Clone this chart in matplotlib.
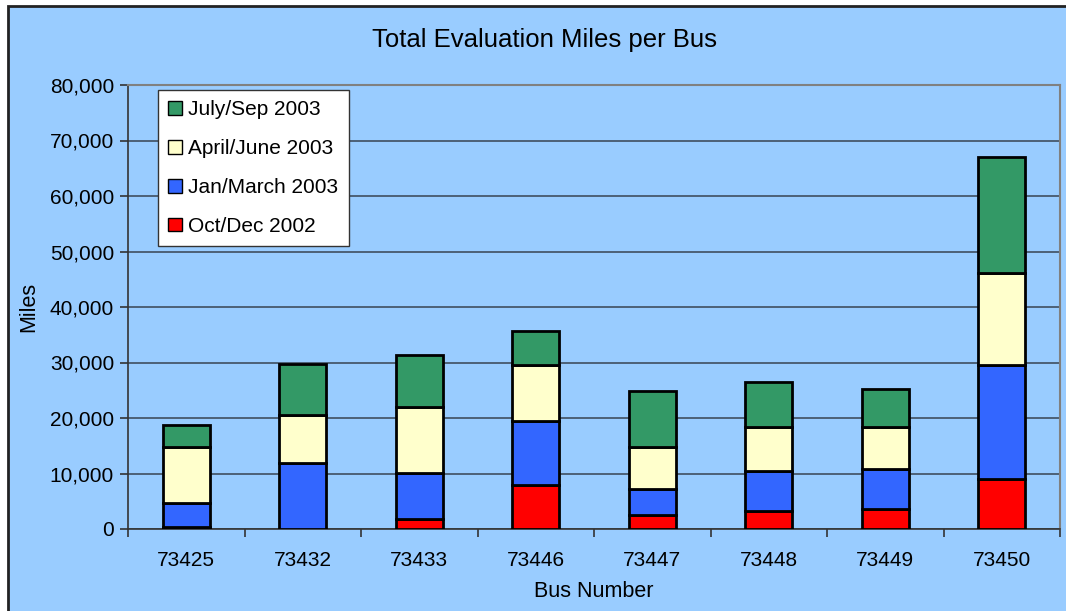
import numpy as np
import matplotlib.pyplot as plt
from matplotlib.patches import Rectangle
from matplotlib.ticker import FuncFormatter, FixedLocator

# Data (miles per quarter)
buses = ["73425", "73432", "73433", "73446", "73447", "73448", "73449", "73450"]
oct_dec_2002 = [400, 0, 1800, 7900, 2500, 3200, 3600, 9000]
jan_mar_2003 = [4300, 11900, 8300, 11600, 4700, 7200, 7200, 20600]
apr_jun_2003 = [10000, 8600, 11900, 10000, 7600, 8000, 7600, 16600]
jul_sep_2003 = [4100, 9200, 9400, 6200, 10100, 8000, 6800, 20900]

series = [
    ("Oct/Dec 2002", oct_dec_2002, "#FF0000"),
    ("Jan/March 2003", jan_mar_2003, "#3366FF"),
    ("April/June 2003", apr_jun_2003, "#FFFFCC"),
    ("July/Sep 2003", jul_sep_2003, "#339966"),
]

bg = "#99CCFF"
plt.rcParams["font.family"] = ["Liberation Sans", "DejaVu Sans"]

fig = plt.figure(figsize=(10.66, 6.11), dpi=100, facecolor="white")
# chart area (cropped at right and bottom in the original)
fig.patches.append(Rectangle((8 / 1066, -0.05), 1.1, 1.05 - 6 / 611,
                             transform=fig.transFigure, facecolor=bg,
                             edgecolor="#222222", linewidth=2, zorder=-1))
ax = fig.add_axes([128 / 1066, 1 - 529 / 611, 932 / 1066, 444 / 611])
ax.set_facecolor(bg)

x = np.arange(len(buses))
bottom = np.zeros(len(buses))
handles = []
for label, vals, color in series:
    b = ax.bar(x, vals, 0.4, bottom=bottom, color=color, edgecolor="black",
               linewidth=2, label=label, zorder=3)
    handles.append(b)
    bottom += np.array(vals)

ax.set_xlim(-0.5, len(buses) - 0.5)
ax.set_ylim(0, 80000)
ax.set_yticks(np.arange(0, 80001, 10000))
ax.yaxis.set_major_formatter(FuncFormatter(lambda v, p: f"{int(v):,}"))
ax.grid(axis="y", color="#3F4F60", linewidth=1.2, zorder=1)

ax.set_xticks(x)
ax.set_xticklabels(buses)
ax.xaxis.set_minor_locator(FixedLocator(np.arange(-0.5, len(buses), 1.0)))
ax.tick_params(axis="x", which="major", length=0, pad=16, labelsize=15)
ax.tick_params(axis="x", which="minor", length=6, width=1.2, color="#333333")
ax.tick_params(axis="y", length=6, width=1.2, color="#333333", labelsize=15, pad=4)

for s in ["left", "bottom"]:
    ax.spines[s].set_color("#333333")
    ax.spines[s].set_linewidth(1.2)
for s in ["top", "right"]:
    ax.spines[s].set_color("#808080")
    ax.spines[s].set_linewidth(1.5)

ax.set_xlabel("Bus Number", fontsize=15.5, labelpad=8)
ax.set_ylabel("Miles", fontsize=15.5, labelpad=8)
fig.text(545 / 1066, 1 - 40 / 611, "Total Evaluation Miles per Bus",
         ha="center", va="center", fontsize=18.5)

leg = ax.legend(handles[::-1], [s[0] for s in series][::-1], loc="upper left",
                bbox_to_anchor=(30 / 932, 1 - 5 / 444), fontsize=15,
                frameon=True, fancybox=False, edgecolor="#333333",
                handlelength=0.65, handleheight=0.65, handletextpad=0.3,
                labelspacing=0.95, borderpad=0.5, borderaxespad=0)
leg.get_frame().set_linewidth(1.0)
leg.get_frame().set_facecolor("white")
leg.get_frame().set_alpha(1.0)
for p in leg.get_patches():
    p.set_linewidth(1.0)

fig.savefig("out.png", dpi=100, facecolor="white")
